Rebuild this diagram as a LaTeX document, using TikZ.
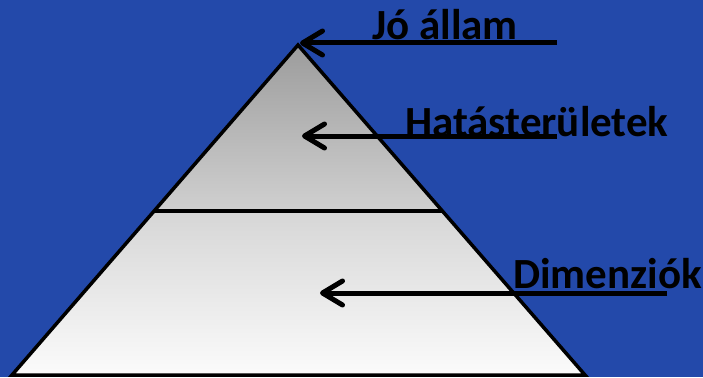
\documentclass[tikz,border=0pt]{standalone}
\usepackage{fontspec}
\setmainfont{Carlito}
\usetikzlibrary{arrows.meta}
\definecolor{bgblue}{RGB}{35,73,170}
\tikzset{
  lbl/.style={anchor=base west, inner sep=0pt, font=\fontsize{43}{43}\selectfont\bfseries, text=black},
  pointer/.style={line width=5pt, -{Straight Barb[length=20pt,width=24pt,line cap=round,line join=round]}},
  edge/.style={line width=3.5pt, line join=miter}
}
\begin{document}
\begin{tikzpicture}[x=1pt,y=-1pt]
\fill[bgblue] (0,0) rectangle (703,377);
\useasboundingbox (0,0) rectangle (703,377);
% pyramid
\coordinate (apex) at (298,45);
\coordinate (bl) at (12,375);
\coordinate (br) at (585,375);
\coordinate (ml) at (154,211);
\coordinate (mr) at (442,211);
\shade[top color={rgb,255:red,156;green,156;blue,156}, bottom color={rgb,255:red,208;green,208;blue,208}] (apex) -- (mr) -- (ml) -- cycle;
\shade[top color={rgb,255:red,214;green,214;blue,214}, bottom color={rgb,255:red,251;green,251;blue,251}] (ml) -- (mr) -- (br) -- (bl) -- cycle;
\draw[edge] (apex) -- (br) -- (bl) -- cycle;
\draw[edge] (ml) -- (mr);
% labels
\node[lbl] (t1) at (372,40) {Jó állam};
\node[lbl] (t2) at (405,136) {Hatásterületek};
\node[lbl] (t3) at (513,288) {Dimenziók};
% arrows
\coordinate (s1) at (557,43);
\coordinate (e1) at (300,43);
\coordinate (s2) at (557,136);
\coordinate (e2) at (302,136);
\coordinate (s3) at (667,293);
\coordinate (e3) at (320,293);
\draw[pointer] (s1) -- (e1);
\draw[pointer] (s2) -- (e2);
\draw[pointer] (s3) -- (e3);
\end{tikzpicture}
\end{document}
